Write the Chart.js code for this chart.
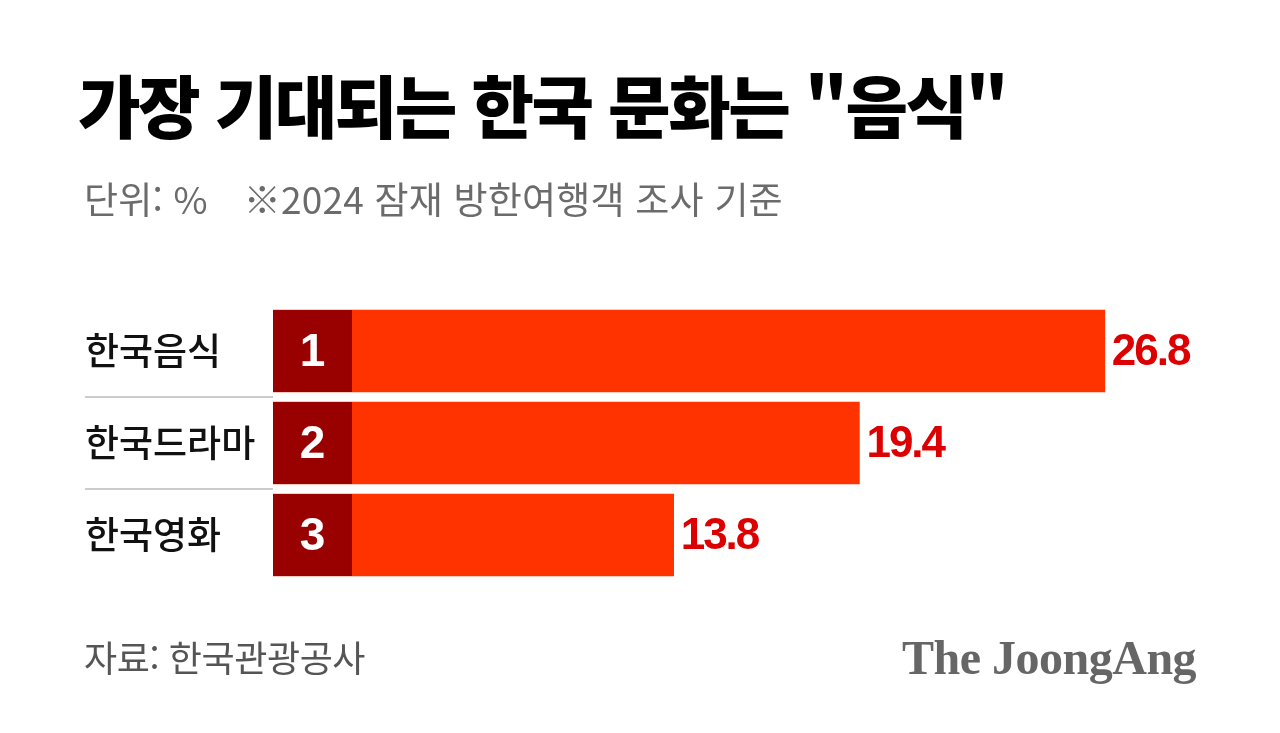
<!DOCTYPE html>
<html lang="ko">
<head>
<meta charset="utf-8">
<script src="https://cdn.jsdelivr.net/npm/chart.js@4.4.1/dist/chart.umd.min.js"></script>
<style>
  body { margin: 0; background: #fff; }
  #wrap { position: relative; width: 1280px; height: 733px; overflow: hidden; font-family: "Noto Sans CJK KR", sans-serif; }
  #mycanvas { position: absolute; left: 0; top: 0; }
  .txt { position: absolute; white-space: nowrap; line-height: 1; }
  #title { left: 78px; top: 70px; font-size: 68px; font-weight: 900; color: #000; letter-spacing: -2.5px; }
  #sub { left: 84px; top: 180px; font-size: 37px; color: #6b6b6b; letter-spacing: 0.2px; }
  #sub span { margin-left: 36px; }
  #source { left: 84px; top: 638px; font-size: 36px; color: #555; letter-spacing: -0.4px; }
  #logo { left: 902px; top: 634px; font-family: "Liberation Serif", serif; font-weight: bold; font-size: 48px; color: #666; letter-spacing: -0.5px; }
</style>
</head>
<body>
<div id="wrap">
  <canvas id="mycanvas" width="1280" height="733"></canvas>
  <div class="txt" id="title">가장 기대되는 한국 문화는 "음식"</div>
  <div class="txt" id="sub">단위: %<span>※2024 잠재 방한여행객 조사 기준</span></div>
  <div class="txt" id="source">자료: 한국관광공사</div>
  <div class="txt" id="logo">The JoongAng</div>
</div>
<script>
var categories = ["한국음식", "한국드라마", "한국영화"];
var values = [26.8, 19.4, 13.8];
var ranks = ["1", "2", "3"];
// the value axis starts to the left of where the bars become visible
var axisStart = 1.72;
var axisEnd = 30;

// rank boxes, value labels and the separators on the left
var barExtras = {
	id: "barExtras",
	afterDatasetsDraw: function(chart){
		var ctx = chart.ctx;
		var yScale = chart.scales.y;
		var bars = chart.getDatasetMeta(0).data;
		ctx.save();

		// separators between categories
		ctx.strokeStyle = "#cccccc";
		ctx.lineWidth = 2;
		for(var i = 0; i < bars.length - 1; i++){
			var y = Math.round((yScale.getPixelForValue(i) + yScale.getPixelForValue(i + 1)) / 2);
			ctx.beginPath();
			ctx.moveTo(yScale.left, y);
			ctx.lineTo(bars[i].base, y);
			ctx.stroke();
		}

		for(var j in bars){
			var bar = bars[j];
			var h = bar.height;
			// dark rank box
			ctx.fillStyle = "#990000";
			ctx.fillRect(bar.base, bar.y - h / 2, 79, h);
			ctx.fillStyle = "#ffffff";
			ctx.font = "bold 46px 'Liberation Sans', Arial, sans-serif";
			ctx.textAlign = "center";
			ctx.textBaseline = "middle";
			ctx.fillText(ranks[j], bar.base + 39.5, bar.y + 2);

			// value label
			ctx.fillStyle = "#dd0000";
			ctx.font = "bold 44px 'Liberation Sans', Arial, sans-serif";
			ctx.letterSpacing = "-2px";
			ctx.textAlign = "left";
			ctx.fillText(values[j].toFixed(1), bar.x + 7, bar.y + 2);
			ctx.letterSpacing = "0px";
		}
		ctx.restore();
	}
};

var ctx = document.getElementById("mycanvas");
var BarGraph = new Chart(ctx, {
	type: "bar",
	data: {
		labels: categories,
		datasets: [{
			data: values,
			base: axisStart,
			backgroundColor: "#ff3300",
			barThickness: 82
		}]
	},
	options: {
		indexAxis: "y",
		responsive: false,
		animation: false,
		devicePixelRatio: 1,
		layout: { padding: { left: 85, right: 69, top: 305, bottom: 152 } },
		plugins: { legend: { display: false }, tooltip: { enabled: false } },
		scales: {
			x: { display: false, min: axisStart, max: axisEnd },
			y: {
				grid: { display: false },
				border: { display: false },
				ticks: {
					color: "#111111",
					font: { family: "'Noto Sans CJK KR', sans-serif", size: 37, weight: "500" },
					crossAlign: "far",
					padding: 0
				},
				afterFit: function(scale){ scale.width = 188; }
			}
		}
	},
	plugins: [barExtras]
});
</script>
</body>
</html>
